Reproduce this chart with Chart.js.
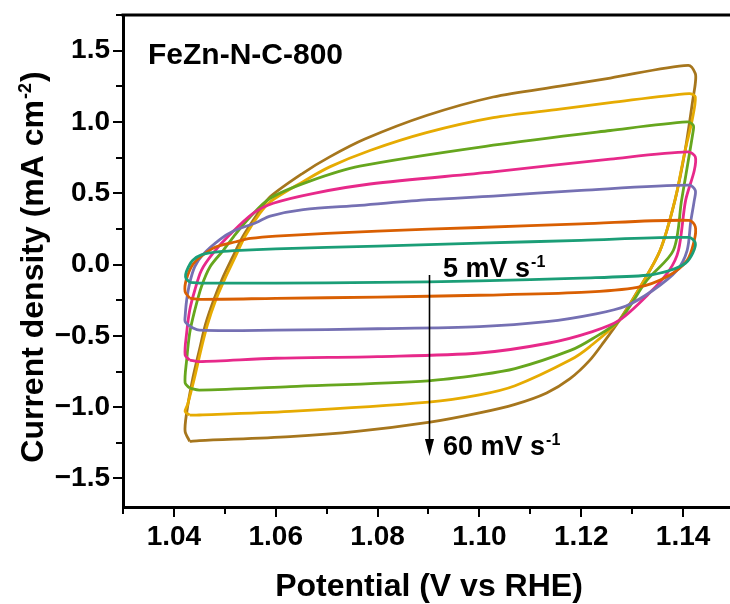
<!DOCTYPE html>
<html lang="en">
<head>
  <meta charset="UTF-8">
  <title>FeZn-N-C-800 CV</title>
  <script src="https://cdn.jsdelivr.net/npm/chart.js"></script>
  <style>
    html, body { margin: 0; padding: 0; background: #fff; overflow: hidden; }
    #wrap { width: 730px; height: 604px; overflow: hidden; }
  </style>
</head>
<body>
<div id="wrap"><canvas id="cvChart" width="740" height="604"></canvas></div>
<script>
  // CV loops: [potential (V vs RHE), current density (mA cm-2)]
  const scanRates = [5, 10, 20, 30, 40, 50, 60];

  const cv5 = [[1.0432,-0.125],[1.0424,-0.10],[1.0423,-0.07],[1.0428,-0.02],[1.0437,0.03],[1.0455,0.07],[1.049,0.09],[1.053,0.10],[1.06,0.11],[1.08,0.13],[1.10,0.15],[1.12,0.17],[1.1412,0.19],[1.1424,0.15],[1.1419,0.08],[1.1405,0.01],[1.1375,-0.04],[1.133,-0.075],[1.12,-0.095],[1.10,-0.115],[1.08,-0.125],[1.06,-0.13],[1.045,-0.13],[1.0432,-0.125]];
  const cv10 = [[1.0431,-0.235],[1.0422,-0.19],[1.0424,-0.11],[1.0437,0.0],[1.0457,0.067],[1.0483,0.125],[1.0522,0.16],[1.055,0.183],[1.06,0.20],[1.08,0.235],[1.10,0.26],[1.12,0.285],[1.1412,0.31],[1.1424,0.265],[1.1422,0.17],[1.1408,0.03],[1.1368,-0.085],[1.131,-0.16],[1.12,-0.195],[1.10,-0.215],[1.08,-0.228],[1.06,-0.237],[1.045,-0.244],[1.0431,-0.235]];
  const cv20 = [[1.0432,-0.435],[1.0422,-0.40],[1.0422,-0.365],[1.0425,-0.25],[1.0431,-0.13],[1.0441,-0.015],[1.0457,0.07],[1.049,0.175],[1.0517,0.235],[1.0562,0.295],[1.0589,0.34],[1.0654,0.385],[1.0765,0.415],[1.09,0.455],[1.1027,0.48],[1.12,0.52],[1.1412,0.557],[1.1424,0.52],[1.1422,0.45],[1.1415,0.30],[1.1408,0.10],[1.1388,-0.04],[1.1341,-0.18],[1.1288,-0.29],[1.1229,-0.345],[1.1132,-0.40],[1.10,-0.435],[1.08,-0.45],[1.06,-0.46],[1.045,-0.46],[1.0432,-0.435]];
  const cv30 = [[1.0431,-0.67],[1.0422,-0.634],[1.0425,-0.48],[1.0431,-0.32],[1.0441,-0.18],[1.0454,-0.04],[1.0477,0.08],[1.051,0.21],[1.0556,0.36],[1.0595,0.43],[1.0675,0.50],[1.0785,0.565],[1.1027,0.65],[1.1257,0.74],[1.141,0.79],[1.1424,0.755],[1.1422,0.66],[1.1405,0.45],[1.1391,0.10],[1.1373,-0.04],[1.1334,-0.20],[1.1275,-0.39],[1.1222,-0.47],[1.1137,-0.55],[1.10,-0.62],[1.08,-0.645],[1.06,-0.657],[1.045,-0.68],[1.0431,-0.67]];
  const cv40 = [[1.0431,-0.867],[1.0422,-0.83],[1.0425,-0.67],[1.0431,-0.48],[1.0441,-0.32],[1.0454,-0.155],[1.0471,-0.015],[1.0497,0.10],[1.0517,0.195],[1.055,0.335],[1.0589,0.465],[1.0667,0.585],[1.0765,0.69],[1.1027,0.837],[1.1257,0.94],[1.1408,1.0],[1.142,0.977],[1.142,0.94],[1.1397,0.45],[1.1381,0.10],[1.1329,-0.11],[1.1275,-0.39],[1.1222,-0.52],[1.118,-0.60],[1.107,-0.73],[1.10,-0.774],[1.09,-0.815],[1.0628,-0.856],[1.045,-0.88],[1.0431,-0.867]];
  const cv50 = [[1.0431,-1.055],[1.0422,-1.03],[1.0427,-0.98],[1.044,-0.8],[1.0453,-0.6],[1.0466,-0.42],[1.0482,-0.25],[1.050,-0.1],[1.052,0.05],[1.054,0.2],[1.0569,0.36],[1.0589,0.44],[1.0653,0.58],[1.0706,0.685],[1.0785,0.80],[1.0896,0.925],[1.1027,1.03],[1.1158,1.09],[1.1257,1.135],[1.1412,1.199],[1.1424,1.175],[1.1417,1.0],[1.1404,0.80],[1.1384,0.45],[1.1355,0.10],[1.1316,-0.155],[1.1275,-0.39],[1.1217,-0.575],[1.1178,-0.67],[1.107,-0.85],[1.10,-0.914],[1.09,-0.965],[1.0628,-1.03],[1.045,-1.055],[1.0431,-1.055]];
  const cv60 = [[1.0431,-1.24],[1.0422,-1.17],[1.0425,-1.04],[1.0437,-0.8],[1.045,-0.6],[1.0462,-0.42],[1.0478,-0.25],[1.0495,-0.1],[1.0515,0.05],[1.0536,0.2],[1.0569,0.38],[1.0589,0.475],[1.0653,0.64],[1.0706,0.755],[1.0775,0.88],[1.0896,1.045],[1.1027,1.175],[1.1158,1.251],[1.1257,1.308],[1.141,1.397],[1.1424,1.339],[1.1424,1.27],[1.142,1.175],[1.1404,0.80],[1.1384,0.45],[1.1355,0.10],[1.1316,-0.155],[1.1275,-0.39],[1.1245,-0.54],[1.1217,-0.67],[1.1178,-0.80],[1.1132,-0.90],[1.107,-0.98],[1.10,-1.04],[1.0903,-1.105],[1.0759,-1.17],[1.0628,-1.206],[1.045,-1.235],[1.0431,-1.24]];

  const loops = [cv5, cv10, cv20, cv30, cv40, cv50, cv60];

  // labelled (major) ticks
  const xMajor = [1.04, 1.06, 1.08, 1.10, 1.12, 1.14];
  const yMajor = [-1.5, -1.0, -0.5, 0.0, 0.5, 1.0, 1.5];

  const lineColors = ['#1b9e77', '#d95f02', '#7570b3', '#e7298a', '#66a61e', '#e6ab02', '#a6761d'];
  const FONT = "'Liberation Sans', Arial, sans-serif";

  function isMajor(list, v) {
    return list.some(m => Math.abs(m - v) < 1e-6);
  }

  // frame top, tick marks, annotations and axis titles
  const decor = {
    id: 'decor',
    afterDraw(chart) {
      const { ctx, chartArea: a, scales: { x, y } } = chart;
      ctx.save();
      ctx.strokeStyle = '#000';
      ctx.fillStyle = '#000';

      // top frame line
      ctx.lineWidth = 3;
      ctx.beginPath();
      ctx.moveTo(a.left - 1.5, a.top);
      ctx.lineTo(a.right + 10, a.top);
      ctx.stroke();

      // tick marks (outward)
      ctx.lineWidth = 2;
      x.ticks.forEach(t => {
        const px = Math.round(x.getPixelForValue(t.value));
        const len = isMajor(xMajor, t.value) ? 9 : 6;
        ctx.beginPath();
        ctx.moveTo(px, a.bottom + 1);
        ctx.lineTo(px, a.bottom + 1 + len);
        ctx.stroke();
      });
      y.ticks.forEach(t => {
        const py = Math.round(y.getPixelForValue(t.value));
        const len = isMajor(yMajor, t.value) ? 9 : 6;
        ctx.beginPath();
        ctx.moveTo(a.left - 1, py);
        ctx.lineTo(a.left - 1 - len, py);
        ctx.stroke();
      });

      // sample name
      ctx.textAlign = 'left';
      ctx.textBaseline = 'alphabetic';
      ctx.font = 'bold 30px ' + FONT;
      ctx.fillText('FeZn-N-C-800', 148, 64);

      // scan rate labels with superscript
      function rateLabel(txt, lx, base) {
        ctx.font = 'bold 27px ' + FONT;
        ctx.fillText(txt, lx, base);
        const w = ctx.measureText(txt).width;
        ctx.font = 'bold 16px ' + FONT;
        ctx.fillText('-1', lx + w + 1, base - 10);
      }
      rateLabel('5 mV s', 443, 277);
      rateLabel('60 mV s', 443, 455);

      // arrow
      ctx.lineWidth = 1.6;
      ctx.beginPath();
      ctx.moveTo(429.5, 275);
      ctx.lineTo(429.5, 442);
      ctx.stroke();
      ctx.beginPath();
      ctx.moveTo(425, 439);
      ctx.lineTo(434, 439);
      ctx.lineTo(429.5, 456);
      ctx.closePath();
      ctx.fill();

      // x title
      ctx.font = 'bold 32px ' + FONT;
      ctx.textAlign = 'center';
      ctx.fillText('Potential (V vs RHE)', 429, 596);

      // y title (rotated) with superscript
      ctx.translate(43, 268);
      ctx.rotate(-Math.PI / 2);
      ctx.textAlign = 'left';
      const p1 = 'Current density (mA cm', sup = '-2', p2 = ')';
      ctx.font = 'bold 32px ' + FONT;
      const w1 = ctx.measureText(p1).width, w2 = ctx.measureText(p2).width;
      ctx.font = 'bold 18px ' + FONT;
      const ws = ctx.measureText(sup).width;
      let x0 = -(w1 + ws + w2) / 2;
      ctx.font = 'bold 32px ' + FONT;
      ctx.fillText(p1, x0, 0);
      ctx.font = 'bold 18px ' + FONT;
      ctx.fillText(sup, x0 + w1 + 1, -12);
      ctx.font = 'bold 32px ' + FONT;
      ctx.fillText(p2, x0 + w1 + ws + 2, 0);

      ctx.restore();
    }
  };

  const ctx = document.getElementById('cvChart').getContext('2d');
  const cvChart = new Chart(ctx, {
    type: 'scatter',
    data: {
      datasets: loops.map((loop, i) => ({
        label: scanRates[i] + ' mV s-1',
        data: loop.map(p => ({ x: p[0], y: p[1] })),
        showLine: true,
        borderColor: lineColors[i],
        backgroundColor: lineColors[i],
        borderWidth: 2.8,
        pointRadius: 0,
        tension: 0.3,
        fill: false
      }))
    },
    options: {
      responsive: false,
      animation: false,
      layout: { padding: { top: 15, right: 6, left: 0, bottom: 0 } },
      plugins: {
        legend: { display: false },
        tooltip: { enabled: false }
      },
      scales: {
        x: {
          type: 'linear',
          min: 1.03,
          max: 1.15,
          afterFit: s => { s.height = 97; s.paddingLeft = 0; s.paddingRight = 0; },
          border: { display: true, color: '#000', width: 3 },
          grid: { drawOnChartArea: false, drawTicks: false },
          ticks: {
            stepSize: 0.01,
            includeBounds: false,
            autoSkip: false,
            maxRotation: 0,
            padding: 13,
            color: '#000',
            font: { family: FONT, size: 28, weight: 'bold' },
            callback: v => isMajor(xMajor, v) ? v.toFixed(2) : ''
          }
        },
        y: {
          type: 'linear',
          min: -1.7,
          max: 1.75,
          afterFit: s => { s.width = 123; s.paddingTop = 0; s.paddingBottom = 0; },
          border: { display: true, color: '#000', width: 3 },
          grid: { drawOnChartArea: false, drawTicks: false },
          ticks: {
            stepSize: 0.25,
            includeBounds: false,
            autoSkip: false,
            padding: 13,
            color: '#000',
            font: { family: FONT, size: 28, weight: 'bold' },
            callback: v => isMajor(yMajor, v) ? v.toFixed(1).replace('-', '\u2212') : ''
          }
        }
      }
    },
    plugins: [decor]
  });
</script>
</body>
</html>
